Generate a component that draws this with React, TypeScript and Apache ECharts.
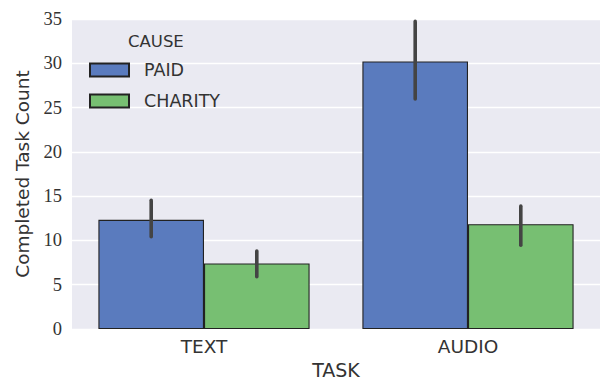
import React, { useEffect, useRef } from "react";
import * as echarts from "echarts";

const categories = ["TEXT", "AUDIO"];
const causes = ["PAID", "CHARITY"];
const paidValues = [12.33, 30.2];
const charityValues = [7.4, 11.84];
const paidLow = [10.24, 25.8];
const paidHigh = [14.7, 34.9];
const charityLow = [5.73, 9.3];
const charityHigh = [8.97, 14.04];
const yTicks = { min: 0, max: 35, interval: 5 };

const PAID_COLOR = "#5A7BBE";
const CHARITY_COLOR = "#77BF72";

function errorSeries(name: string, lows: number[], highs: number[], sign: number) {
  return {
    type: "custom",
    name: name + " CI",
    z: 10,
    clip: false,
    silent: true,
    encode: { x: 0, y: [1, 2] },
    data: categories.map((_, i) => [i, lows[i], highs[i]]),
    renderItem: (params: any, api: any) => {
      const x = api.value(0);
      const lo = api.coord([x, api.value(1)]);
      const hi = api.coord([x, api.value(2)]);
      const band = api.size([1, 0])[0];
      const off = (sign * band * 0.8) / 4;
      return {
        type: "line",
        shape: { x1: lo[0] + off, y1: lo[1] - 1.5, x2: lo[0] + off, y2: hi[1] + 1.5 },
        style: { stroke: "#444444", lineWidth: 3.6, lineCap: "round" },
      };
    },
  };
}

export default function App() {
  const ref = useRef<HTMLDivElement>(null);
  useEffect(() => {
    if (!ref.current) return;
    const chart = echarts.init(ref.current, undefined, { renderer: "svg" });
    const sans = "DejaVu Sans";
    chart.setOption({
      animation: false,
      backgroundColor: "#ffffff",
      grid: {
        left: 72,
        right: 0,
        top: 19,
        bottom: 52,
        show: true,
        backgroundColor: "#EAEAF2",
        borderWidth: 0,
        containLabel: false,
        outerBoundsMode: "none",
      },
      title: {
        text: "CAUSE",
        left: 128,
        top: 33,
        padding: 0,
        textStyle: { fontFamily: sans, fontSize: 16.5, fontWeight: "normal", color: "#333333" },
      },
      legend: {
        orient: "vertical",
        left: 89,
        top: 61,
        padding: 0,
        itemWidth: 39,
        itemHeight: 13,
        itemGap: 13,
        icon: "rect",
        data: causes,
        textStyle: {
          fontFamily: sans,
          fontSize: 17.5,
          color: "#333333",
          padding: [0, 0, 0, 10],
        },
      },
      xAxis: {
        type: "category",
        data: categories,
        name: "TASK",
        nameLocation: "middle",
        nameGap: 30,
        nameTextStyle: { fontFamily: sans, fontSize: 19, color: "#333333" },
        axisLine: { show: false },
        axisTick: { show: false },
        axisLabel: { fontFamily: sans, fontSize: 18.5, color: "#333333", margin: 8 },
        splitLine: { show: false },
      },
      yAxis: {
        type: "value",
        min: yTicks.min,
        max: yTicks.max,
        interval: yTicks.interval,
        name: "Completed Task Count",
        nameLocation: "middle",
        nameGap: 40,
        nameTextStyle: { fontFamily: sans, fontSize: 18.5, color: "#333333" },
        axisLine: { show: false },
        axisTick: { show: false },
        axisLabel: { fontFamily: "Liberation Serif", fontSize: 18.5, color: "#333333", margin: 10 },
        splitLine: { show: true, lineStyle: { color: "#ffffff", width: 1.4 } },
      },
      series: [
        {
          type: "bar",
          name: "PAID",
          data: paidValues,
          barGap: "0%",
          barCategoryGap: "20%",
          itemStyle: { color: PAID_COLOR, borderColor: "#222222", borderWidth: 1.1 },
        },
        {
          type: "bar",
          name: "CHARITY",
          data: charityValues,
          barGap: "0%",
          barCategoryGap: "20%",
          itemStyle: { color: CHARITY_COLOR, borderColor: "#222222", borderWidth: 1.1 },
        },
        errorSeries("PAID", paidLow, paidHigh, -1),
        errorSeries("CHARITY", charityLow, charityHigh, 1),
      ],
    });
    return () => chart.dispose();
  }, []);
  return (
    <div
      ref={ref}
      style={{ position: "fixed", left: 0, top: 0, width: 600, height: 381 }}
    />
  );
}
